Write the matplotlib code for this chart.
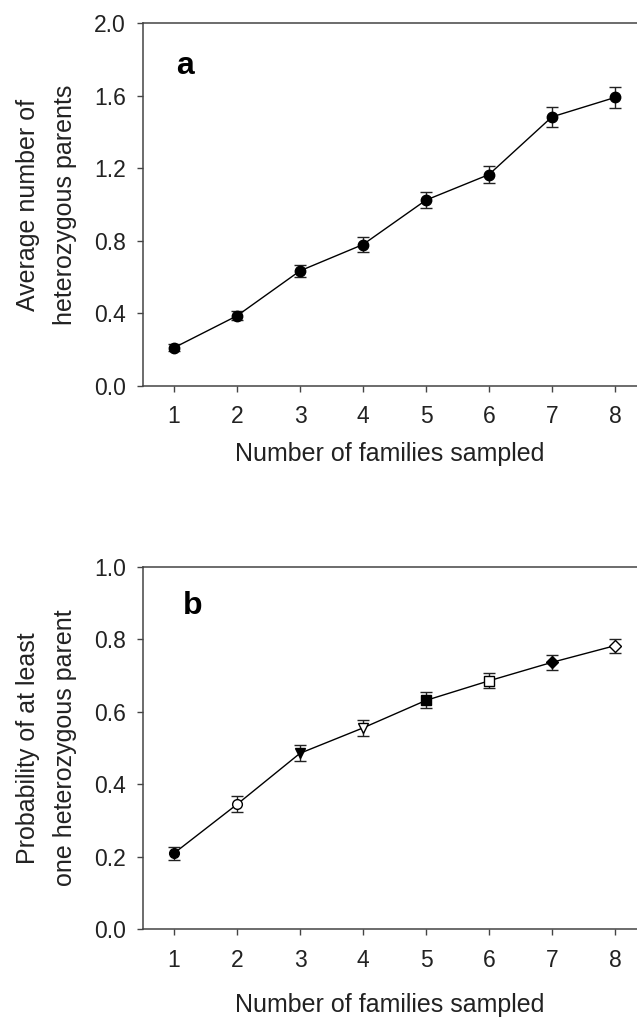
import matplotlib
matplotlib.use("Agg")
import matplotlib.pyplot as plt

plt.rcParams['font.family'] = ['Liberation Sans', 'DejaVu Sans']

families = [1, 2, 3, 4, 5, 6, 7, 8]

avg_het = [0.211, 0.387, 0.635, 0.780, 1.025, 1.166, 1.484, 1.591]
avg_err = [0.018, 0.025, 0.033, 0.039, 0.046, 0.049, 0.057, 0.060]

prob_het = [0.209, 0.344, 0.485, 0.555, 0.631, 0.685, 0.736, 0.782]
prob_err = [0.018, 0.022, 0.022, 0.022, 0.022, 0.021, 0.021, 0.019]

b_markers = ['o', 'o', 'v', 'v', 's', 's', 'D', 'D']
b_fills = ['black', 'white', 'black', 'white', 'black', 'white', 'black', 'white']
b_sizes = [7, 7, 7.5, 7.5, 6.5, 6.5, 6, 6]

a_yticks = [0.0, 0.4, 0.8, 1.2, 1.6, 2.0]
b_yticks = [0.0, 0.2, 0.4, 0.6, 0.8, 1.0]

W, H = 637, 1021
fig = plt.figure(figsize=(W / 100, H / 100), dpi=100)

def frac_axes(left, top, right, bottom):
    return fig.add_axes([left / W, 1 - bottom / H, (right - left) / W, (bottom - top) / H])

axa = frac_axes(142.7, 23.3, 637, 386)
axb = frac_axes(142.7, 566.7, 637, 929)

spine_col = '#444444'
tick_fs = 16.5
label_fs = 18

for ax in (axa, axb):
    ax.spines['right'].set_visible(False)
    for s in ('left', 'top', 'bottom'):
        ax.spines[s].set_color(spine_col)
        ax.spines[s].set_linewidth(1.1)
    ax.set_xlim(0.503, 8.35)
    ax.set_xticks(families)
    ax.tick_params(axis='both', direction='out', length=4, width=1, color=spine_col,
                   labelsize=tick_fs, labelcolor='#222222')
    ax.tick_params(axis='y', pad=8)

axa.tick_params(axis='x', pad=10)
axb.tick_params(axis='x', pad=10.5)
axa.set_xlabel('Number of families sampled', fontsize=label_fs, color='#222222', labelpad=10)
axb.set_xlabel('Number of families sampled', fontsize=label_fs, color='#222222', labelpad=15)

# panel a
axa.errorbar(families, avg_het, yerr=avg_err, color='black', lw=1, marker='o',
             ms=7.5, mfc='black', mec='black', ecolor='#222222', elinewidth=1,
             capsize=4, capthick=1)
axa.set_ylim(0, 2.0)
axa.set_yticks(a_yticks)
axa.set_yticklabels([f'{v:.1f}' for v in a_yticks])
axa.set_ylabel('Average number of\nheterozygous parents', fontsize=label_fs,
               color='#222222', labelpad=12, linespacing=1.7)
axa.text(0.0846, 0.882, 'a', transform=axa.transAxes, fontsize=23, fontweight='bold',
         ha='center', va='center')

# panel b
axb.plot(families, prob_het, color='black', lw=1, zorder=2)
axb.errorbar(families, prob_het, yerr=prob_err, fmt='none', ecolor='#222222',
             elinewidth=1, capsize=4, capthick=1, zorder=2)
for xi, yi, m, fc, s in zip(families, prob_het, b_markers, b_fills, b_sizes):
    axb.plot([xi], [yi], marker=m, ms=s, mfc=fc, mec='black', mew=1, ls='none', zorder=3)
axb.set_ylim(0, 1.0)
axb.set_yticks(b_yticks)
axb.set_yticklabels([f'{v:.1f}' for v in b_yticks])
axb.set_ylabel('Probability of at least\none heterozygous parent', fontsize=label_fs,
               color='#222222', labelpad=12, linespacing=1.7)
axb.text(0.102, 0.891, 'b', transform=axb.transAxes, fontsize=23, fontweight='bold',
         ha='center', va='center')

fig.savefig('out.png', dpi=100)
